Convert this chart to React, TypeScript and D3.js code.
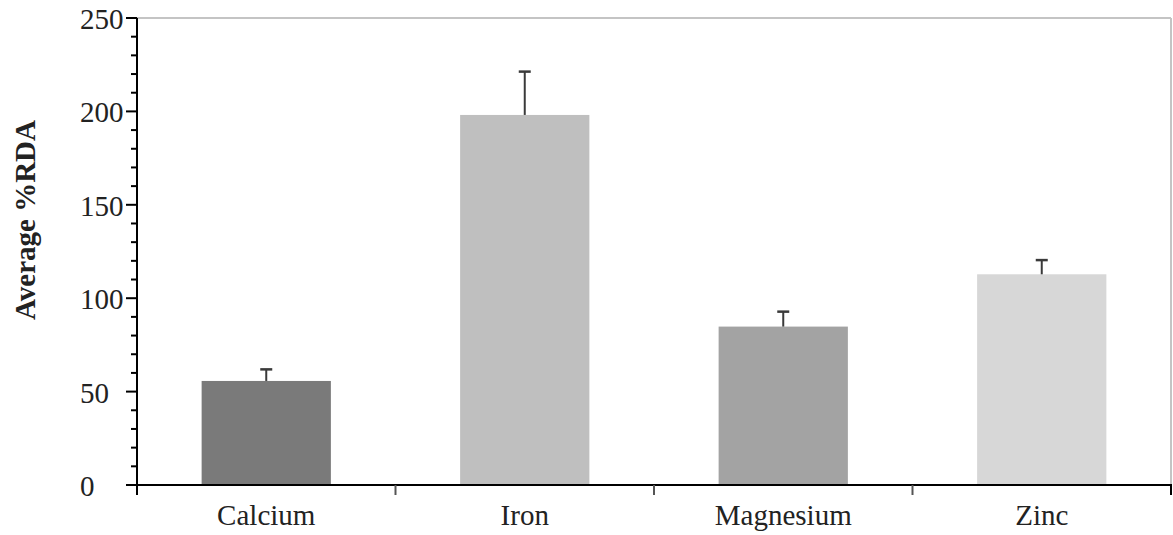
import React from "react";
import * as d3 from "d3";

const categories = ["Calcium", "Iron", "Magnesium", "Zinc"];
const means = [55.7, 198.1, 84.8, 112.8];
const errors = [6.2, 23.2, 8.0, 7.6];
const barColors = ["#7a7a7a", "#bfbfbf", "#a3a3a3", "#d7d7d7"];
const yTicks = [0, 50, 100, 150, 200, 250];
const yLabel = "Average %RDA";

const W = 1173;
const H = 535;
const left = 137;
const right = 1171;
const top = 18;
const bottom = 485;
const FONT = "Liberation Serif, DejaVu Serif, serif";

export default function App() {
  const y = d3.scaleLinear().domain([0, 250]).range([bottom, top]);
  const x = d3
    .scaleBand<string>()
    .domain(categories)
    .range([left, right])
    .paddingInner(0.5)
    .paddingOuter(0.25);
  const step = x.step();
  const minor = d3.range(0, 251, 10).filter((v) => v % 50 !== 0);
  const boundaries = d3.range(0, categories.length + 1).map((i) => left + i * step);
  const capW = 12;
  const ts = { fontFamily: FONT };

  return (
    <svg
      width={W}
      height={H}
      style={{ position: "absolute", left: 0, top: 0, background: "#fff" }}
    >
      {/* frame top & right */}
      <line x1={left} x2={right} y1={top} y2={top} stroke="#c4c4c4" strokeWidth={2} />
      <line x1={right} x2={right} y1={top} y2={bottom} stroke="#c4c4c4" strokeWidth={2} />

      {/* bars */}
      {categories.map((c, i) => (
        <rect
          key={c}
          x={x(c)}
          y={y(means[i])}
          width={x.bandwidth()}
          height={y(0) - y(means[i])}
          fill={barColors[i]}
        />
      ))}

      {/* error bars */}
      {categories.map((c, i) => {
        const cx = (x(c) as number) + x.bandwidth() / 2;
        return (
          <g key={"e" + c} stroke="#3a3a3a" strokeWidth={2}>
            <line x1={cx} x2={cx} y1={y(means[i])} y2={y(means[i] + errors[i])} />
            <line
              x1={cx - capW / 2}
              x2={cx + capW / 2}
              y1={y(means[i] + errors[i])}
              y2={y(means[i] + errors[i])}
              strokeWidth={2.5}
            />
          </g>
        );
      })}

      {/* y axis */}
      <line x1={left} x2={left} y1={top} y2={bottom + 10} stroke="#000" strokeWidth={2} />
      {yTicks.map((t) => (
        <g key={"yt" + t}>
          <line x1={left - 11} x2={left} y1={y(t)} y2={y(t)} stroke="#000" strokeWidth={2} />
          <text x={80} y={y(t) + 11} fontSize={29} fill="#222" style={ts}>
            {t}
          </text>
        </g>
      ))}
      {minor.map((t) => (
        <line
          key={"mt" + t}
          x1={left - 6}
          x2={left}
          y1={y(t)}
          y2={y(t)}
          stroke="#000"
          strokeWidth={2}
        />
      ))}

      {/* x axis */}
      <line x1={left} x2={right + 1} y1={bottom} y2={bottom} stroke="#000" strokeWidth={2} />
      {boundaries.map((b, i) => (
        <line
          key={"xb" + i}
          x1={b}
          x2={b}
          y1={bottom}
          y2={bottom + 10}
          stroke={i === 0 || i === boundaries.length - 1 ? "#000" : "#555"}
          strokeWidth={2}
        />
      ))}
      {categories.map((c) => (
        <text
          key={"xl" + c}
          x={(x(c) as number) + x.bandwidth() / 2}
          y={525}
          fontSize={29}
          textAnchor="middle"
          fill="#222"
          style={ts}
        >
          {c}
        </text>
      ))}

      {/* y label */}
      <text
        transform={`translate(35, ${(118 + 322) / 2}) rotate(-90)`}
        textAnchor="middle"
        fontSize={29}
        fontWeight="bold"
        fill="#222"
        style={ts}
      >
        {yLabel}
      </text>
    </svg>
  );
}
